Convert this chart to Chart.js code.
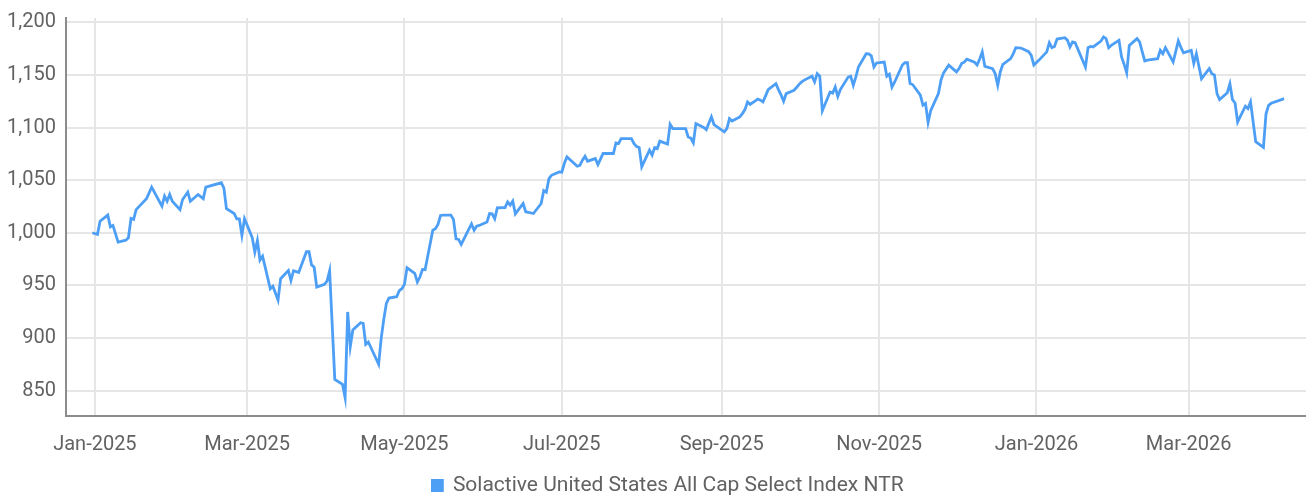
<!DOCTYPE html>
<html>
<head>
<meta charset="utf-8">
<script src="https://cdn.jsdelivr.net/npm/chart.js@4/dist/chart.umd.min.js"></script>
<style>
  html, body { margin: 0; padding: 0; background: #ffffff; }
  #wrap { width: 1306px; height: 500px; position: relative; }
</style>
</head>
<body>
<div id="wrap"><canvas id="c"></canvas></div>
<script>
const seriesLabel = 'Solactive United States All Cap Select Index NTR';

const dates = [
 '2024-12-31','2025-01-02','2025-01-03','2025-01-06','2025-01-07','2025-01-08','2025-01-10','2025-01-13','2025-01-14','2025-01-15',
 '2025-01-16','2025-01-17','2025-01-21','2025-01-23','2025-01-27','2025-01-28','2025-01-29','2025-01-30','2025-01-31','2025-02-03',
 '2025-02-04','2025-02-06','2025-02-07','2025-02-10','2025-02-12','2025-02-13','2025-02-19','2025-02-20','2025-02-21','2025-02-24',
 '2025-02-25','2025-02-26','2025-02-27','2025-02-28','2025-03-03','2025-03-04','2025-03-05','2025-03-06','2025-03-07','2025-03-10',
 '2025-03-11','2025-03-13','2025-03-14','2025-03-17','2025-03-18','2025-03-19','2025-03-21','2025-03-24','2025-03-25','2025-03-26',
 '2025-03-27','2025-03-28','2025-03-31','2025-04-01','2025-04-02','2025-04-04','2025-04-07','2025-04-08','2025-04-09','2025-04-10',
 '2025-04-11','2025-04-14','2025-04-15','2025-04-16','2025-04-17','2025-04-21','2025-04-22','2025-04-23','2025-04-24','2025-04-25',
 '2025-04-28','2025-04-29','2025-04-30','2025-05-01','2025-05-02','2025-05-05','2025-05-06','2025-05-07','2025-05-08','2025-05-09',
 '2025-05-12','2025-05-13','2025-05-14','2025-05-15','2025-05-16','2025-05-19','2025-05-20','2025-05-21','2025-05-22','2025-05-23',
 '2025-05-27','2025-05-28','2025-05-29','2025-05-30','2025-06-02','2025-06-03','2025-06-04','2025-06-05','2025-06-06','2025-06-09',
 '2025-06-10','2025-06-11','2025-06-12','2025-06-13','2025-06-16','2025-06-17','2025-06-18','2025-06-20','2025-06-23','2025-06-24',
 '2025-06-25','2025-06-26','2025-06-27','2025-06-30','2025-07-01','2025-07-02','2025-07-03','2025-07-07','2025-07-08','2025-07-09',
 '2025-07-10','2025-07-11','2025-07-14','2025-07-15','2025-07-16','2025-07-17','2025-07-18','2025-07-21','2025-07-22','2025-07-23',
 '2025-07-24','2025-07-25','2025-07-28','2025-07-29','2025-07-30','2025-07-31','2025-08-01','2025-08-04','2025-08-05','2025-08-06',
 '2025-08-07','2025-08-08','2025-08-11','2025-08-12','2025-08-13','2025-08-14','2025-08-15','2025-08-18','2025-08-19','2025-08-20',
 '2025-08-21','2025-08-22','2025-08-25','2025-08-26','2025-08-27','2025-08-28','2025-08-29','2025-09-02','2025-09-03','2025-09-04',
 '2025-09-05','2025-09-08','2025-09-09','2025-09-10','2025-09-11','2025-09-12','2025-09-15','2025-09-16','2025-09-17','2025-09-18',
 '2025-09-19','2025-09-22','2025-09-23','2025-09-24','2025-09-25','2025-09-26','2025-09-29','2025-09-30','2025-10-01','2025-10-02',
 '2025-10-03','2025-10-06','2025-10-07','2025-10-08','2025-10-09','2025-10-10','2025-10-13','2025-10-14','2025-10-15','2025-10-16',
 '2025-10-17','2025-10-20','2025-10-21','2025-10-22','2025-10-23','2025-10-24','2025-10-27','2025-10-28','2025-10-29','2025-10-30',
 '2025-10-31','2025-11-03','2025-11-04','2025-11-05','2025-11-06','2025-11-07','2025-11-10','2025-11-11','2025-11-12','2025-11-13',
 '2025-11-14','2025-11-17','2025-11-18','2025-11-19','2025-11-20','2025-11-21','2025-11-24','2025-11-25','2025-11-26','2025-11-28',
 '2025-12-01','2025-12-02','2025-12-03','2025-12-04','2025-12-05','2025-12-08','2025-12-09','2025-12-10','2025-12-11','2025-12-12',
 '2025-12-15','2025-12-16','2025-12-17','2025-12-18','2025-12-19','2025-12-22','2025-12-23','2025-12-24','2025-12-26','2025-12-29',
 '2025-12-30','2025-12-31','2026-01-02','2026-01-05','2026-01-06','2026-01-07','2026-01-08','2026-01-09','2026-01-12','2026-01-13',
 '2026-01-14','2026-01-15','2026-01-16','2026-01-20','2026-01-21','2026-01-22','2026-01-23','2026-01-26','2026-01-27','2026-01-28',
 '2026-01-29','2026-01-30','2026-02-02','2026-02-03','2026-02-04','2026-02-05','2026-02-06','2026-02-09','2026-02-10','2026-02-11',
 '2026-02-12','2026-02-13','2026-02-17','2026-02-18','2026-02-19','2026-02-20','2026-02-23','2026-02-24','2026-02-25','2026-02-26',
 '2026-02-27','2026-03-02','2026-03-03','2026-03-04','2026-03-05','2026-03-06','2026-03-09','2026-03-10','2026-03-11','2026-03-12',
 '2026-03-13','2026-03-16','2026-03-17','2026-03-18','2026-03-19','2026-03-20','2026-03-23','2026-03-24','2026-03-25','2026-03-27',
 '2026-03-30','2026-03-31','2026-04-01','2026-04-02','2026-04-06','2026-04-07'
];

const values = [
 1000, 998.4, 1011, 1016.8, 1005.7, 1007, 991.2, 993, 995.3, 1013.6,
 1012.7, 1022, 1032.3, 1043.4, 1025.3, 1034.8, 1030, 1036.4, 1030, 1022,
 1031.6, 1038.6, 1030, 1036.4, 1032.3, 1043.4, 1047.5, 1042.7, 1023, 1018.3,
 1013.3, 1013.3, 997.5, 1013.3, 995.3, 981.7, 992.7, 974.1, 977.7, 946.9,
 949.2, 936.1, 956.4, 964.2, 954.7, 964, 962.4, 982, 982, 969.5,
 967.3, 948.5, 951, 954.2, 964, 860.8, 856, 843.5, 924.8, 891.8,
 907.7, 914.6, 914, 894, 896.3, 875.1, 900, 918, 933, 938,
 939.3, 945, 946.9, 951, 966.8, 961.4, 953.2, 958, 965.2, 965,
 1002.5, 1003.8, 1007.9, 1016.5, 1016.8, 1016.8, 1012.7, 994.3, 993.7, 989,
 1008.5, 1002.5, 1006.3, 1007, 1010.2, 1018.3, 1018, 1013.3, 1023.7, 1024,
 1029.4, 1026.3, 1030, 1018, 1027.8, 1020, 1019.5, 1018.3, 1027.8, 1040.1,
 1038.6, 1051.2, 1054.6, 1057.8, 1057.5, 1066, 1072, 1063.2, 1064, 1069,
 1072.7, 1068, 1070.5, 1064.8, 1070, 1075.3, 1075.3, 1075.3, 1085.4, 1084.7,
 1089.5, 1089.5, 1089.5, 1084.7, 1082, 1081, 1062.7, 1078.5, 1073.8, 1081,
 1080, 1087, 1084.2, 1103, 1099, 1099, 1099, 1099, 1091, 1090,
 1085.4, 1103.7, 1100, 1098, 1104, 1110.1, 1102.8, 1095.8, 1099, 1108.4,
 1106.2, 1110, 1113.2, 1117, 1124.3, 1122, 1127, 1126, 1124.3, 1130,
 1136, 1141.6, 1136, 1131, 1124.9, 1132.2, 1135.4, 1138, 1141, 1143.3,
 1145, 1148.7, 1143.3, 1151.2, 1148.7, 1115.9, 1133.7, 1132.7, 1138.4, 1129.5,
 1136, 1147.9, 1148.7, 1140, 1148, 1157.5, 1170.1, 1170, 1168, 1157.5,
 1161.3, 1162.2, 1148.7, 1150.6, 1138.4, 1143, 1159.3, 1161.5, 1161.5, 1141.8,
 1140.8, 1130.7, 1121.2, 1122.9, 1104.8, 1115.9, 1132.3, 1145, 1151.9, 1159.2,
 1152.8, 1156, 1160.7, 1162, 1164.8, 1162, 1159.3, 1165, 1171.8, 1158,
 1155.9, 1151.2, 1140.1, 1153, 1160, 1165.4, 1170, 1175.8, 1175.5, 1172,
 1168.5, 1159.3, 1164, 1171.8, 1180.5, 1175.8, 1177, 1184, 1185.3, 1183,
 1176.5, 1181.3, 1180.5, 1157.5, 1175.8, 1177, 1176.5, 1182, 1186, 1184.4,
 1175.8, 1178, 1182.8, 1167.1, 1160, 1152, 1178, 1184.4, 1181.3, 1172,
 1163.2, 1164, 1165.4, 1173.3, 1170.1, 1175.8, 1162.2, 1172, 1182.2, 1176,
 1171, 1173.3, 1161, 1170, 1158, 1146.4, 1155.9, 1151.1, 1150, 1132.2,
 1126.5, 1133, 1141.5, 1126.5, 1123.3, 1105.3, 1120.2, 1118, 1124.3, 1086.6,
 1081.2, 1113, 1121.1, 1123, 1126.5, 1127.4
];

const xTickDates = ['2025-01-01','2025-03-01','2025-05-01','2025-07-01','2025-09-01','2025-11-01','2026-01-01','2026-03-01'];
const xTickLabels = ['Jan-2025','Mar-2025','May-2025','Jul-2025','Sep-2025','Nov-2025','Jan-2026','Mar-2026'];
const yTickValues = [850, 900, 950, 1000, 1050, 1100, 1150, 1200];
const xRangeDates = ['2024-12-20','2026-04-14'];
const yRange = [826, 1204];

const DAY = 86400000;
const ORIGIN = Date.parse('2025-01-01T00:00:00Z');
const dayOf = d => (Date.parse(d + 'T00:00:00Z') - ORIGIN) / DAY;

const points = dates.map((d, i) => ({ x: dayOf(d), y: values[i] }));
const xTickPos = xTickDates.map(dayOf);

const FONT = 'Roboto, "Noto Sans", sans-serif';
const TXT = '#626262';
const LINE = '#4d9ff6';

const legendShift = {
  id: 'legendShift',
  afterLayout(chart) {
    const lg = chart.legend;
    if (!lg) return;
    lg.left += 15; lg.right += 15;
    lg.top += 6; lg.bottom += 6;
  }
};

new Chart(document.getElementById('c'), {
  type: 'line',
  data: {
    datasets: [{
      label: seriesLabel,
      data: points,
      borderColor: LINE,
      backgroundColor: LINE,
      borderWidth: 2.8,
      pointRadius: 0,
      pointHoverRadius: 0,
      tension: 0,
      fill: false
    }]
  },
  plugins: [legendShift],
  options: {
    responsive: true,
    maintainAspectRatio: false,
    animation: false,
    layout: { padding: { left: 0, right: 0, top: 15, bottom: 0 } },
    plugins: {
      tooltip: { enabled: false },
      legend: {
        position: 'bottom',
        labels: {
          boxWidth: 10,
          boxHeight: 10,
          color: TXT,
          padding: 13,
          font: { family: FONT, size: 21 }
        }
      }
    },
    scales: {
      x: {
        type: 'linear',
        min: dayOf(xRangeDates[0]) + 0.8,
        max: dayOf(xRangeDates[1]) + 1.5,
        afterBuildTicks: s => { s.ticks = xTickPos.map(v => ({ value: v })); },
        afterFit: s => { s.height = 40; },
        ticks: {
          autoSkip: false,
          maxRotation: 0,
          color: TXT,
          padding: 17,
          font: { family: FONT, size: 20 },
          callback: (v) => { const i = xTickPos.indexOf(v); return i >= 0 ? xTickLabels[i] : ''; }
        },
        grid: { color: '#e6e6e6', lineWidth: 2, drawTicks: false },
        border: { color: '#8c8c8c', width: 2 }
      },
      y: {
        min: yRange[0],
        max: yRange[1],
        afterBuildTicks: s => { s.ticks = yTickValues.map(v => ({ value: v })); },
        afterFit: s => { s.width = 66; },
        ticks: {
          color: TXT,
          padding: 10,
          font: { family: FONT, size: 20, lineHeight: 0.8 },
          callback: v => v.toLocaleString('en-US')
        },
        grid: { color: '#e6e6e6', lineWidth: 2, drawTicks: false },
        border: { color: '#8c8c8c', width: 2 }
      }
    }
  }
});
</script>
</body>
</html>
